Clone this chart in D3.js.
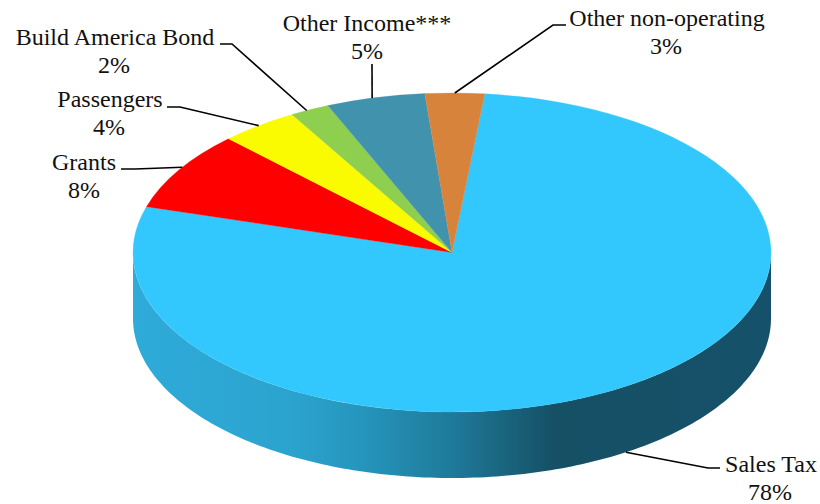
<!DOCTYPE html>
<html>
<head>
<meta charset="utf-8">
<script src="https://cdn.jsdelivr.net/npm/d3@7/dist/d3.min.js"></script>
<style>
  html, body { margin: 0; background: #fff; }
  svg { display: block; }
  text { font-family: "Liberation Serif", "Times New Roman", serif; font-size: 24px; fill: #111; }
</style>
</head>
<body>
<svg id="chart" width="820" height="504"></svg>
<script>
// Revenue sources, clockwise from the top of the large Sales Tax slice.
const categories = ["Sales Tax", "Grants", "Passengers", "Build America Bond", "Other Income***", "Other non-operating"];
const shares = [78, 8, 4, 2, 5, 3];
const colors = ["#33c8fd", "#fe0000", "#fbfb00", "#8ecf4f", "#4092ad", "#d8833c"];

// Label anchors and elbow positions for each leader line, in page pixels.
const labelCentres = [[771, 472], [84, 170], [110, 107], [115, 45], [367, 31], [667, 26]];
const percentOffsets = [-1, 0, -1, -1, 0, -1];
const elbows = [[[720, 468], [708, 468]], [[121, 169], [135, 169]], [[167, 107], [180, 107]], [[220, 44], [232, 44]], [[372, 64]], [[566, 25], [553, 25]]];
// Where a leader meets its slice's rim, in degrees from the slice's midpoint.
const leaderNudges = [0, 1.2, 0, -0.6, -0.6, 0];

const cx = 452, cy = 252.5, rx = 319, ry = 159.5, depth = 66;
const tilt = ry / rx;
const startDeg = 5.9;
const toRad = Math.PI / 180;

const svg = d3.select("#chart");
const defs = svg.append("defs");

// Shading across the cylinder wall: light on the left, darkest past the middle.
const wallStops = [[0, "#2fabd9"], [0.25, "#2ba3cf"], [0.36, "#2595bb"], [0.5, "#1f7a9a"], [0.66, "#155065"], [1, "#15516a"]];
const wallGrad = defs.append("linearGradient").attr("id", "wall")
  .attr("gradientUnits", "userSpaceOnUse")
  .attr("x1", cx - rx).attr("x2", cx + rx).attr("y1", 0).attr("y2", 0);
wallGrad.selectAll("stop").data(wallStops).join("stop")
  .attr("offset", d => d[0]).attr("stop-color", d => d[1]);

const pie = d3.pie().sort(null)
  .startAngle(startDeg * toRad)
  .endAngle((startDeg + 360) * toRad);
const slices = pie(shares);

// Point on the rim for a pie angle (0 = up, clockwise), optionally dropped by dy.
const rim = (a, dy = 0) => [cx + rx * Math.sin(a), cy - ry * Math.cos(a) + dy];

// Front half of the cylinder wall: lower rim, then back along the top rim.
const frontArc = d3.range(0, 181).map(i => Math.PI * (1.5 - i / 180));
const wallPts = frontArc.map(a => rim(a, depth)).concat(frontArc.slice().reverse().map(a => rim(a)));
svg.append("path").attr("d", d3.line()(wallPts) + "Z").attr("fill", "url(#wall)");

// Top face: a circular pie squashed into an ellipse.
const arc = d3.arc().innerRadius(0).outerRadius(rx);
svg.append("g")
  .attr("transform", `translate(${cx},${cy}) scale(1,${tilt})`)
  .selectAll("path").data(slices).join("path")
  .attr("d", arc)
  .attr("fill", (d, i) => colors[i])
  .attr("stroke", (d, i) => colors[i])
  .attr("stroke-width", 0.4);

// Leader lines run from the elbow beside a label to the slice's rim.
const leaderAnchors = slices.map((d, i) =>
  rim((d.startAngle + d.endAngle) / 2 + leaderNudges[i] * toRad));
// Sales Tax attaches to the lower edge of the wall, right of the front.
leaderAnchors[0] = rim(Math.PI - Math.asin((626 - cx) / rx), depth);

svg.append("g").selectAll("path").data(slices).join("path")
  .attr("d", (d, i) => d3.line()([...elbows[i], leaderAnchors[i]]))
  .attr("fill", "none").attr("stroke", "#000").attr("stroke-width", 1.6);

// Two-line labels: category name, then its percentage.
const labels = svg.append("g").selectAll("g").data(categories).join("g");
labels.append("text").attr("text-anchor", "middle")
  .attr("x", (d, i) => labelCentres[i][0]).attr("y", (d, i) => labelCentres[i][1])
  .text(d => d);
labels.append("text").attr("text-anchor", "middle")
  .attr("x", (d, i) => labelCentres[i][0] + percentOffsets[i]).attr("y", (d, i) => labelCentres[i][1] + 27.5)
  .text((d, i) => shares[i] + "%");
</script>
</body>
</html>
